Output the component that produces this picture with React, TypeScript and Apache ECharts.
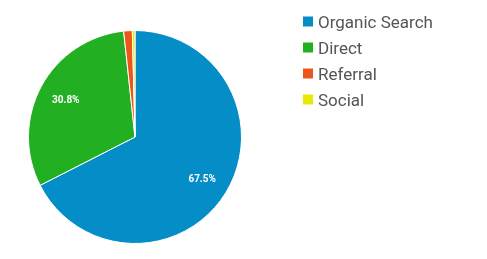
import React, { useEffect, useRef } from "react";
import * as echarts from "echarts";

const categories = ["Organic Search", "Direct", "Referral", "Social"];
const values = [67.5, 30.8, 1.3, 0.4];
const colors = ["#058dc7", "#22b022", "#ed561b", "#e8e800"];

export default function App() {
  const ref = useRef<HTMLDivElement>(null);
  useEffect(() => {
    document.body.style.margin = "0";
    const chart = echarts.init(ref.current!, null, { renderer: "svg" });
    const data = categories.map((name, i) => ({ name, value: values[i] }));
    chart.setOption({
      animation: false,
      color: colors,
      legend: {
        orient: "vertical",
        left: 298,
        top: 8,
        itemWidth: 10,
        itemHeight: 10,
        itemGap: 9,
        itemTextGap: 14,
        itemStyle: { borderWidth: 0 },
        icon: "rect",
        textStyle: { color: "#555", fontSize: 17, fontFamily: "Roboto, Arial, sans-serif" },
        data: categories,
      },
      series: [
        {
          type: "pie",
          center: [135, 137],
          radius: [0, 106.5],
          startAngle: 90,
          clockwise: true,
          label: { show: false },
          labelLine: { show: false },
          itemStyle: { borderColor: "#fff", borderWidth: 1 },
          emphasis: { disabled: true },
          data,
        },
        {
          type: "pie",
          center: [135, 137],
          radius: [45, 106.5],
          startAngle: 90,
          clockwise: true,
          silent: true,
          itemStyle: { color: "transparent", borderWidth: 0 },
          label: {
            show: true,
            position: "inside",
            color: "#fff",
            fontSize: 10,
            fontWeight: "bold",
            fontFamily: "Roboto, Arial, sans-serif",
            formatter: (p: any) => (p.value >= 5 ? p.value.toFixed(1) + "%" : ""),
          },
          labelLine: { show: false },
          emphasis: { disabled: true },
          data,
        },
      ],
    });
    return () => chart.dispose();
  }, []);
  return <div ref={ref} style={{ position: "fixed", left: 0, top: 0, width: 487, height: 259 }} />;
}
